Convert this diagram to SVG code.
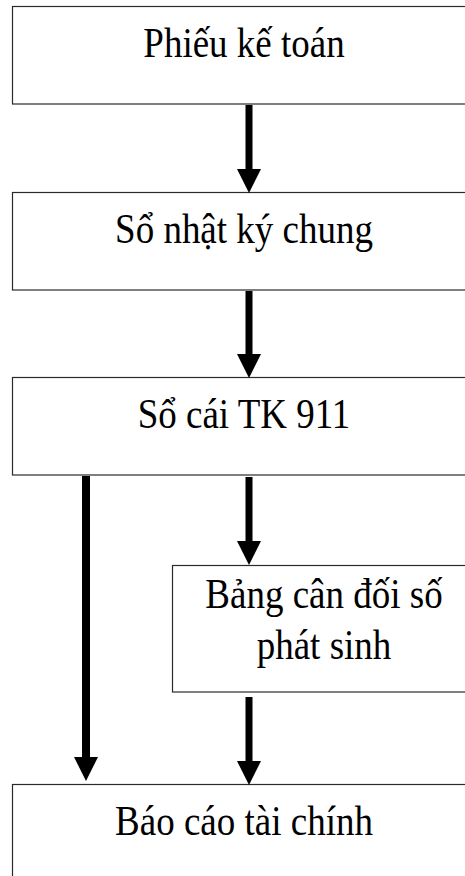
<svg xmlns="http://www.w3.org/2000/svg" width="465" height="876" viewBox="0 0 465 876">
  <style>
    .box { fill: #ffffff; stroke: #2a2a2a; stroke-width: 1.2; }
    .label { font-family: "Liberation Serif", "Times New Roman", serif; font-size: 37px; fill: #000000; text-anchor: middle; }
    .flow { stroke: #000000; fill: none; }
  </style>
  <defs>
    <marker id="head" markerUnits="userSpaceOnUse" markerWidth="24" markerHeight="24" refX="0" refY="12" orient="auto" overflow="visible">
      <path d="M0,0 L24,12 L0,24 Z" fill="#000000"/>
    </marker>
  </defs>
  <rect width="465" height="876" fill="#ffffff"/>

  <g id="phieu-ke-toan">
    <rect class="box" x="12.5" y="6.5" width="464" height="97.5"/>
    <text class="label" transform="translate(244,57) scale(1,1.15)">Phiếu kế toán</text>
  </g>

  <g id="so-nhat-ky-chung">
    <rect class="box" x="12.5" y="192.5" width="464" height="97.5"/>
    <text class="label" transform="translate(244,243) scale(1,1.15)">Sổ nhật ký chung</text>
  </g>

  <g id="so-cai-tk-911">
    <rect class="box" x="12.5" y="377.5" width="464" height="97.5"/>
    <text class="label" transform="translate(244,428) scale(1,1.15)">Sổ cái TK 911</text>
  </g>

  <g id="bang-can-doi-so-phat-sinh">
    <rect class="box" x="172.5" y="565.5" width="304" height="126.5"/>
    <text class="label" transform="translate(324,608) scale(1,1.15)">Bảng cân đối số</text>
    <text class="label" transform="translate(324,659) scale(1,1.15)">phát sinh</text>
  </g>

  <g id="bao-cao-tai-chinh">
    <rect class="box" x="12.5" y="784.5" width="464" height="120"/>
    <text class="label" transform="translate(244,835) scale(1,1.15)">Báo cáo tài chính</text>
  </g>

  <g id="connectors">
    <line class="flow" x1="249" y1="105" x2="249" y2="169" stroke-width="7" marker-end="url(#head)"/>
    <line class="flow" x1="249" y1="291" x2="249" y2="354" stroke-width="7" marker-end="url(#head)"/>
    <line class="flow" x1="249" y1="477" x2="249" y2="541" stroke-width="7" marker-end="url(#head)"/>
    <line class="flow" x1="86" y1="476" x2="86" y2="757" stroke-width="8" marker-end="url(#head)"/>
    <line class="flow" x1="249" y1="697" x2="249" y2="761" stroke-width="7" marker-end="url(#head)"/>
  </g>
</svg>
